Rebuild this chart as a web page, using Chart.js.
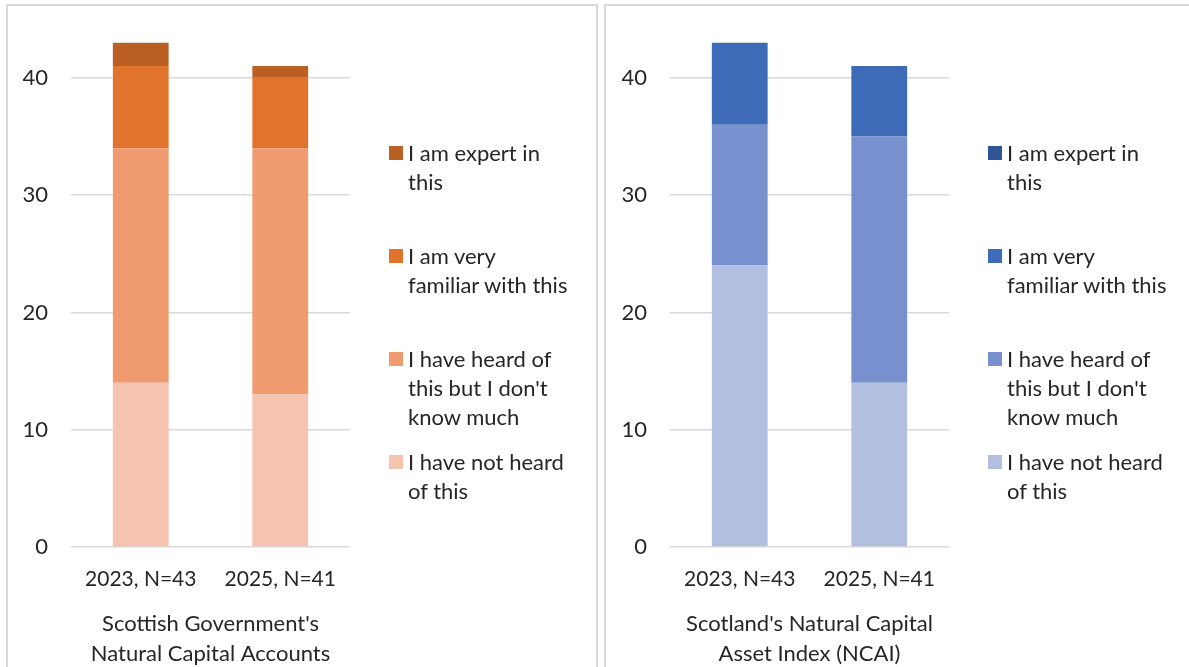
<!DOCTYPE html>
<html>
<head>
<meta charset="utf-8">
<script src="https://cdn.jsdelivr.net/npm/chart.js@4/dist/chart.umd.min.js"></script>
<style>
    html, body { margin: 0; padding: 0; background: #fff; overflow: hidden; }
    body { width: 1189px; height: 667px; position: relative; font-family: Lato, sans-serif; color: #262626; }
    .panel { position: absolute; top: 4px; height: 680px; border: 2px solid #d9d9d9; box-sizing: border-box; }
    .chart-box { position: absolute; top: -17px; height: 686px; }
    .legend { position: absolute; top: 138px; font-size: 22px; line-height: 29px; }
    .legend-item { position: relative; padding-left: 19px; height: 103px; }
    .legend-item .swatch { position: absolute; left: 0; top: 8px; width: 14px; height: 14px; }
</style>
</head>
<body>

<div class="panel" style="left:6px; width:592px;"></div>
<div class="panel" style="left:604px; width:600px;"></div>

<div class="chart-box" style="left:7px; width:590px;"><canvas id="sgnaChart"></canvas></div>
<div class="chart-box" style="left:606px; width:583px;"><canvas id="ncaiChart"></canvas></div>

<div class="legend" id="sgnaLegend" style="left:389px;"></div>
<div class="legend" id="ncaiLegend" style="left:988px;"></div>

<script>
// Awareness of natural capital products

const categories = ['2023, N=43', '2025, N=41'];
const seriesNames = ['I have not heard of this', "I have heard of this but I don't know much", 'I am very familiar with this', 'I am expert in this'];
const legendLines = [['I have not heard', 'of this'], ['I have heard of', "this but I don't", 'know much'], ['I am very', 'familiar with this'], ['I am expert in', 'this']];
const yTicks = [0, 10, 20, 30, 40];

// Scottish Government's Natural Capital Accounts
const sgnaNotHeard = [14, 13];
const sgnaHeard = [20, 21];
const sgnaFamiliar = [7, 6];
const sgnaExpert = [2, 1];

// Scotland's Natural Capital Asset Index
const ncaiNotHeard = [24, 14];
const ncaiHeard = [12, 21];
const ncaiFamiliar = [7, 6];
const ncaiExpert = [0, 0];

const orangeColors = ['#F5C3B0', '#F09A70', '#E0742D', '#BA6024'];
const blueColors = ['#B3BFE0', '#7891CE', '#3E6BB8', '#2F5597'];

function makeChart(canvasId, series, colors, title, rightPad) {
    const datasets = series.map((values, i) => ({
        label: seriesNames[i],
        data: values,
        backgroundColor: colors[i],
        borderWidth: 0,
        barPercentage: 0.4,
        categoryPercentage: 1
    }));

    return new Chart(document.getElementById(canvasId), {
        type: 'bar',
        data: { labels: categories, datasets: datasets },
        options: {
            responsive: true,
            maintainAspectRatio: false,
            animation: false,
            layout: { padding: { top: 14, right: rightPad, bottom: 0, left: 0 } },
            plugins: {
                legend: { display: false },
                tooltip: { enabled: false }
            },
            scales: {
                x: {
                    stacked: true,
                    grid: { display: false },
                    border: { display: false },
                    ticks: { color: '#262626', font: { family: 'Lato', size: 21 }, padding: 12, maxRotation: 0 },
                    title: {
                        display: true,
                        text: title,
                        color: '#262626',
                        font: { family: 'Lato', size: 22, lineHeight: '30px' },
                        padding: { top: 0, bottom: 0 }
                    },
                    afterFit: scale => { scale.height = 122; }
                },
                y: {
                    stacked: true,
                    min: 0,
                    max: 45,
                    grid: { color: '#d9d9d9', lineWidth: 1.5, drawTicks: false },
                    border: { display: false },
                    ticks: { stepSize: 10, color: '#262626', font: { family: 'Lato', size: 22 }, padding: 23 },
                    afterBuildTicks: axis => {
                        axis.ticks = yTicks.map(v => ({ value: v }));
                    },
                    afterFit: scale => { scale.width = 64; }
                }
            }
        }
    });
}

function buildLegend(elId, colors) {
    const el = document.getElementById(elId);
    for (let i = seriesNames.length - 1; i >= 0; i--) {
        const item = document.createElement('div');
        item.className = 'legend-item';
        item.innerHTML = '<span class="swatch" style="background:' + colors[i] + '"></span>' + legendLines[i].join('<br>');
        el.appendChild(item);
    }
}

makeChart('sgnaChart', [sgnaNotHeard, sgnaHeard, sgnaFamiliar, sgnaExpert], orangeColors,
    ["Scottish Government's", 'Natural Capital Accounts'], 247);
makeChart('ncaiChart', [ncaiNotHeard, ncaiHeard, ncaiFamiliar, ncaiExpert], blueColors,
    ["Scotland's Natural Capital", 'Asset Index (NCAI)'], 240);

buildLegend('sgnaLegend', orangeColors);
buildLegend('ncaiLegend', blueColors);
</script>
</body>
</html>
